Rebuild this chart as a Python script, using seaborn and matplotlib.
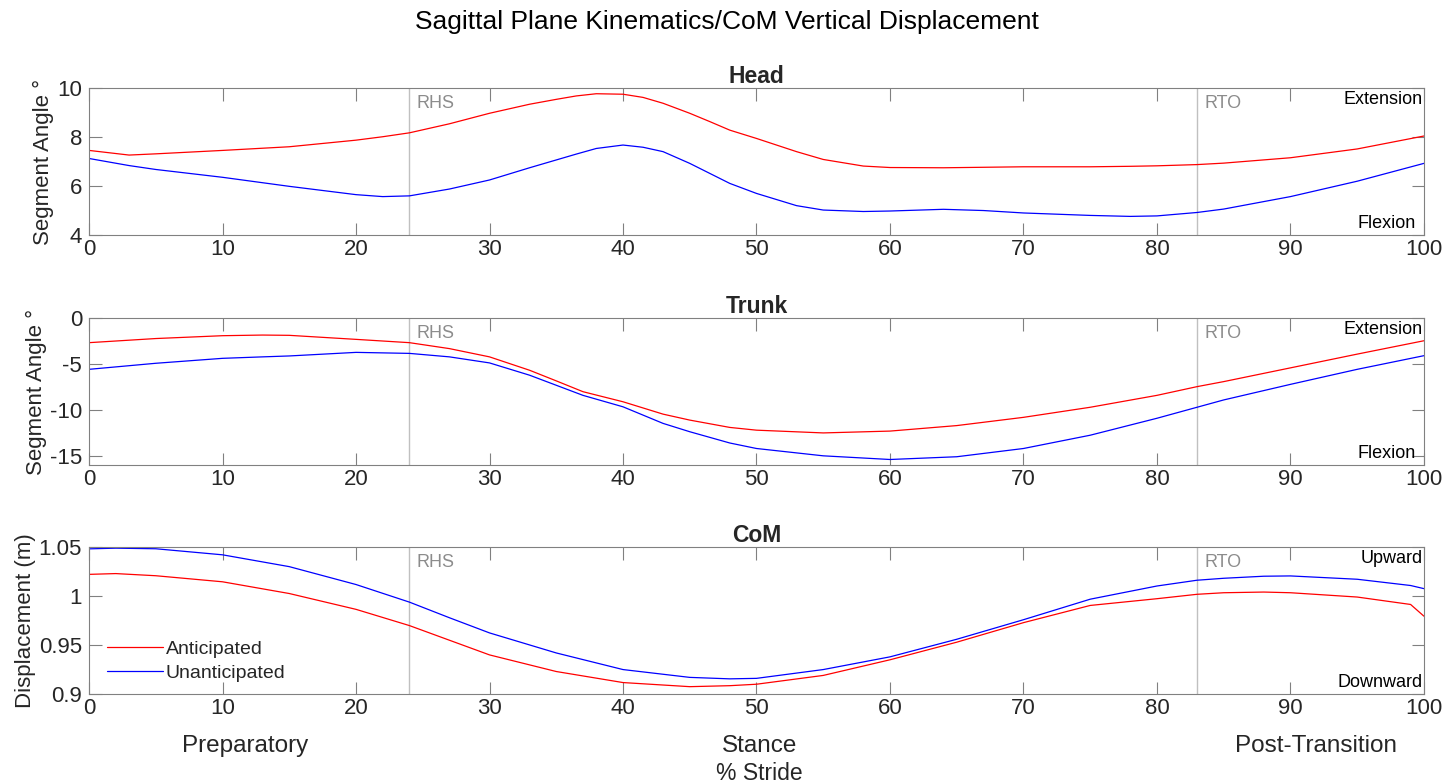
import matplotlib
matplotlib.use('Agg')
import matplotlib.pyplot as plt
import matplotlib.transforms as mtransforms
import seaborn as sns
import pandas as pd
import numpy as np

# values (% stride vs angle / displacement)
head_x = [0, 3, 5, 10, 15, 20, 22, 24, 27, 30, 33, 35, 36.5, 38, 40, 41.5, 43, 45, 46.5,
          48, 50, 53, 55, 58, 60, 64, 67, 70, 75, 78, 80, 83, 85, 90, 95, 100]
head_ant = [7.46, 7.27, 7.32, 7.46, 7.61, 7.88, 8.02, 8.18, 8.55, 8.98, 9.35, 9.55, 9.69,
            9.78, 9.76, 9.63, 9.39, 8.98, 8.64, 8.29, 7.95, 7.41, 7.09, 6.82, 6.76, 6.75,
            6.77, 6.79, 6.79, 6.81, 6.83, 6.88, 6.94, 7.16, 7.52, 8.05]
head_unant = [7.13, 6.84, 6.68, 6.36, 5.99, 5.65, 5.57, 5.6, 5.88, 6.25, 6.75, 7.07, 7.31,
              7.54, 7.68, 7.59, 7.41, 6.93, 6.52, 6.11, 5.7, 5.2, 5.02, 4.96, 4.98, 5.05,
              5.0, 4.9, 4.8, 4.76, 4.78, 4.92, 5.06, 5.57, 6.2, 6.93]

trunk_x = [0, 5, 10, 13, 15, 20, 24, 27, 30, 33, 35, 37, 40, 43, 45, 48, 50, 55, 60,
           65, 70, 75, 80, 83, 85, 90, 95, 100]
trunk_ant = [-2.65, -2.2, -1.89, -1.82, -1.85, -2.29, -2.65, -3.3, -4.2, -5.66, -6.82, -8.0,
             -9.1, -10.45, -11.1, -11.9, -12.2, -12.5, -12.3, -11.7, -10.8, -9.7, -8.4,
             -7.45, -6.9, -5.4, -3.9, -2.44]
trunk_unant = [-5.56, -4.9, -4.36, -4.2, -4.1, -3.71, -3.82, -4.2, -4.86, -6.2, -7.3, -8.4,
               -9.65, -11.46, -12.37, -13.6, -14.2, -15.0, -15.4, -15.1, -14.2, -12.75,
               -10.9, -9.7, -8.9, -7.2, -5.56, -4.07]

com_x = [0, 2, 5, 10, 15, 20, 24, 27, 30, 35, 40, 45, 48, 50, 55, 60, 65, 70, 75,
         80, 83, 85, 88, 90, 95, 99, 100]
com_ant = [1.0224, 1.0232, 1.021, 1.0148, 1.0028, 0.9866, 0.970, 0.955, 0.940, 0.923, 0.9117,
           0.9075, 0.9085, 0.910, 0.919, 0.935, 0.953, 0.973, 0.9906, 0.9975, 1.002, 1.0036,
           1.0043, 1.0036, 0.9992, 0.9916, 0.9796]
com_unant = [1.0485, 1.0492, 1.0486, 1.0424, 1.0303, 1.012, 0.994, 0.978, 0.9625, 0.942,
             0.925, 0.917, 0.9155, 0.916, 0.925, 0.938, 0.956, 0.976, 0.997, 1.0105, 1.0164,
             1.0184, 1.0205, 1.0208, 1.0174, 1.011, 1.0078]

events = {'RHS': 24, 'RTO': 83}
phases = {'Preparatory': 11.7, 'Stance': 50.2, 'Post-Transition': 91.9}


def to_long(x, ant, unant):
    return pd.DataFrame({
        'stride': list(x) * 2,
        'value': list(ant) + list(unant),
        'condition': ['Anticipated'] * len(x) + ['Unanticipated'] * len(x),
    })


sns.set_style('ticks')
plt.rcParams['font.family'] = ['Liberation Sans', 'DejaVu Sans']

spine_col = '#808080'
text_col = '#262626'
palette = {'Anticipated': '#ff0000', 'Unanticipated': '#0000ff'}

fig = plt.figure(figsize=(14.43, 7.84), dpi=100)

panels = [
    ('Head', to_long(head_x, head_ant, head_unant), (4, 10), [4, 6, 8, 10],
     ['4', '6', '8', '10'], 'Segment Angle °', ('Extension', 'Flexion'), 0.7003),
    ('Trunk', to_long(trunk_x, trunk_ant, trunk_unant), (-16, 0), [-15, -10, -5, 0],
     ['-15', '-10', '-5', '0'], 'Segment Angle °', ('Extension', 'Flexion'), 0.4069),
    ('CoM', to_long(com_x, com_ant, com_unant), (0.9, 1.05), [0.9, 0.95, 1.0, 1.05],
     ['0.9', '0.95', '1', '1.05'], 'Displacement (m)', ('Upward', 'Downward'), 0.1148),
]

axes = []
for i, (name, df, ylim, yt, ytl, ylab, (top_lab, bot_lab), y0) in enumerate(panels):
    ax = fig.add_axes([0.0617, y0, 0.9251, 0.1870])
    axes.append(ax)
    last = i == len(panels) - 1
    sns.lineplot(data=df, x='stride', y='value', hue='condition', palette=palette,
                 estimator=None, linewidth=0.9, ax=ax, legend=last)

    for lab, xv in events.items():
        ax.axvline(xv, color='#c0c0c0', lw=1.0, zorder=0)
        ax.text(xv + 0.55, 0.9, lab, transform=mtransforms.blended_transform_factory(
            ax.transData, ax.transAxes), color='#8c8c8c', fontsize=13, va='center')

    ax.set_xlim(0, 100)
    ax.set_ylim(*ylim)
    ax.set_xticks(range(0, 101, 10))
    ax.set_yticks(yt)
    ax.set_yticklabels(ytl)
    ax.set_xlabel('')
    ax.set_ylabel(ylab, fontsize=16, color=text_col, labelpad=2)
    ax.set_title(name, fontsize=16.5, fontweight='bold', pad=4)

    ax.tick_params(axis='both', direction='in', length=9, width=0.8, colors=spine_col,
                   labelcolor=text_col, labelsize=16, top=True, right=True)
    ax.tick_params(axis='x', pad=3)
    ax.tick_params(axis='y', pad=5)
    for sp in ax.spines.values():
        sp.set_visible(True)
        sp.set_color(spine_col)
        sp.set_linewidth(0.8)

    ax.text(0.999, 0.985, top_lab, transform=ax.transAxes, ha='right', va='top',
            fontsize=13, color='black')
    ax.text(0.994 if bot_lab == 'Flexion' else 0.999, 0.02, bot_lab, transform=ax.transAxes,
            ha='right', va='bottom', fontsize=13, color='black')

ax3 = axes[-1]
leg = ax3.legend(loc='lower left', bbox_to_anchor=(0.0005, -0.035), frameon=False,
                 fontsize=14, handlelength=2.85, handletextpad=0.15, labelspacing=0.3)
for line in leg.get_lines():
    line.set_linewidth(0.9)

trans = mtransforms.blended_transform_factory(ax3.transData, ax3.transAxes)
for lab, xv in phases.items():
    ax3.text(xv, -0.356, lab, transform=trans, ha='center', va='center',
             fontsize=17.5, color=text_col)
ax3.text(50.2, -0.545, '% Stride', transform=trans, ha='center', va='center',
         fontsize=16.5, color=text_col)

fig.suptitle('Sagittal Plane Kinematics/CoM Vertical Displacement', x=0.504, y=1 - 22 / 784,
             va='center', fontsize=19, color='black')

fig.savefig('out.png', dpi=100)
